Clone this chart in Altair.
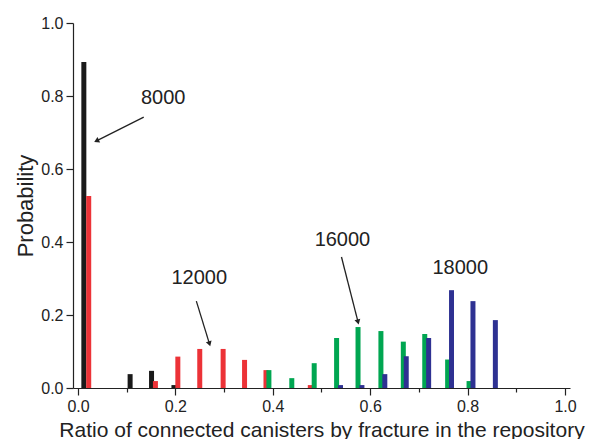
import altair as alt
import pandas as pd
import numpy as np

# series: bar positions (ratio) and probabilities
x_8000 = [0.012, 0.107, 0.151, 0.197]
p_8000 = [0.893, 0.038, 0.047, 0.008]

x_12000 = [0.022, 0.159, 0.205, 0.250, 0.298, 0.342, 0.386, 0.477]
p_12000 = [0.526, 0.019, 0.086, 0.107, 0.107, 0.077, 0.049, 0.008]

x_16000 = [0.392, 0.439, 0.485, 0.531, 0.575, 0.622, 0.668, 0.712, 0.759, 0.803]
p_16000 = [0.049, 0.027, 0.068, 0.137, 0.167, 0.156, 0.127, 0.148, 0.078, 0.019]

x_18000 = [0.539, 0.583, 0.630, 0.674, 0.720, 0.767, 0.811, 0.857]
p_18000 = [0.008, 0.008, 0.038, 0.087, 0.137, 0.268, 0.238, 0.186]

series_names = ["8000", "12000", "16000", "18000"]
series_colors = ["#1a1a1a", "#ec3237", "#00a651", "#2e3192"]

# annotation labels
label_text = ["8000", "12000", "16000", "18000"]
label_x = [0.175, 0.249, 0.543, 0.785]
label_y = [0.795, 0.301, 0.405, 0.329]

# arrows (start -> end) in data units
arrow_x1 = [0.135, 0.243, 0.541]
arrow_y1 = [0.742, 0.238, 0.359]
arrow_x2 = [0.038, 0.270, 0.575]
arrow_y2 = [0.677, 0.121, 0.181]

W, H = 497, 365

rows = []
for name, xs, ps in zip(series_names, [x_8000, x_12000, x_16000, x_18000],
                        [p_8000, p_12000, p_16000, p_18000]):
    for xv, pv in zip(xs, ps):
        rows.append({"series": name, "x": xv, "p": pv})
bars_df = pd.DataFrame(rows)

labels_df = pd.DataFrame({"t": label_text, "x": label_x, "y": label_y})
arr_df = pd.DataFrame({"x1": arrow_x1, "y1": arrow_y1, "x2": arrow_x2, "y2": arrow_y2})
arr_df["angle"] = [
    float(np.degrees(np.arctan2((b - a) * W, (d - c) * H)))
    % 360
    for a, b, c, d in zip(arr_df.x1, arr_df.x2, arr_df.y1, arr_df.y2)
]

major_test = "round(datum.value*10) % 2 == 0"
tick_vals = [i / 10 for i in range(11)]

xscale = alt.Scale(domain=[0, 1], nice=False, zero=False)
yscale = alt.Scale(domain=[0, 1], nice=False)

xaxis = alt.Axis(
    values=tick_vals,
    labelExpr="round(datum.value*10) % 2 == 0 ? format(datum.value, '.1f') : ''",
    tickSize={"condition": {"test": major_test, "value": 7}, "value": 4},
    title="Ratio of connected canisters by fracture in the repository",
    titleFontSize=21,
    titleBaseline="alphabetic",
    titleY=48,
    grid=False,
)
yaxis = alt.Axis(
    values=tick_vals,
    labelExpr="round(datum.value*10) % 2 == 0 ? format(datum.value, '.1f') : ''",
    tickSize={"condition": {"test": major_test, "value": 7}, "value": 4},
    title="Probability",
    titleFontSize=22,
    titleBaseline="alphabetic",
    titleX=-41,
    grid=False,
)

bars = alt.Chart(bars_df).mark_bar(size=5).encode(
    x=alt.X("x:Q", scale=xscale, axis=xaxis),
    y=alt.Y("p:Q", scale=yscale, axis=yaxis),
    color=alt.Color("series:N", scale=alt.Scale(domain=series_names, range=series_colors), legend=None),
)

texts = alt.Chart(labels_df).mark_text(fontSize=20, font="Liberation Sans", color="#222222").encode(
    x=alt.X("x:Q", scale=xscale), y=alt.Y("y:Q", scale=yscale), text="t:N"
)

rules = alt.Chart(arr_df).mark_rule(color="#222222", strokeWidth=1.3).encode(
    x=alt.X("x1:Q", scale=xscale), y=alt.Y("y1:Q", scale=yscale), x2="x2:Q", y2="y2:Q"
)

heads = alt.Chart(arr_df).mark_point(shape="triangle-up", filled=True, color="#222222", size=35, opacity=1).encode(
    x=alt.X("x2:Q", scale=xscale), y=alt.Y("y2:Q", scale=yscale), angle=alt.Angle("angle:Q", scale=None)
)

chart = alt.layer(bars, rules, heads, texts).properties(
    width=W, height=H,
    autosize=alt.AutoSizeParams(type="none"),
    padding={"left": 65, "top": 15, "right": 20, "bottom": 51},
).configure_view(stroke=None).configure_axis(
    domainColor="#222222", tickColor="#222222", domainWidth=1.2, tickWidth=1.2,
    labelFont="Liberation Sans", labelFontSize=16, labelColor="#222222", labelPadding=3,
    titleFont="Liberation Sans", titleColor="#222222", titleFontWeight="normal",
)

chart.save("out.html", embed_options={"renderer": "svg", "actions": False})
